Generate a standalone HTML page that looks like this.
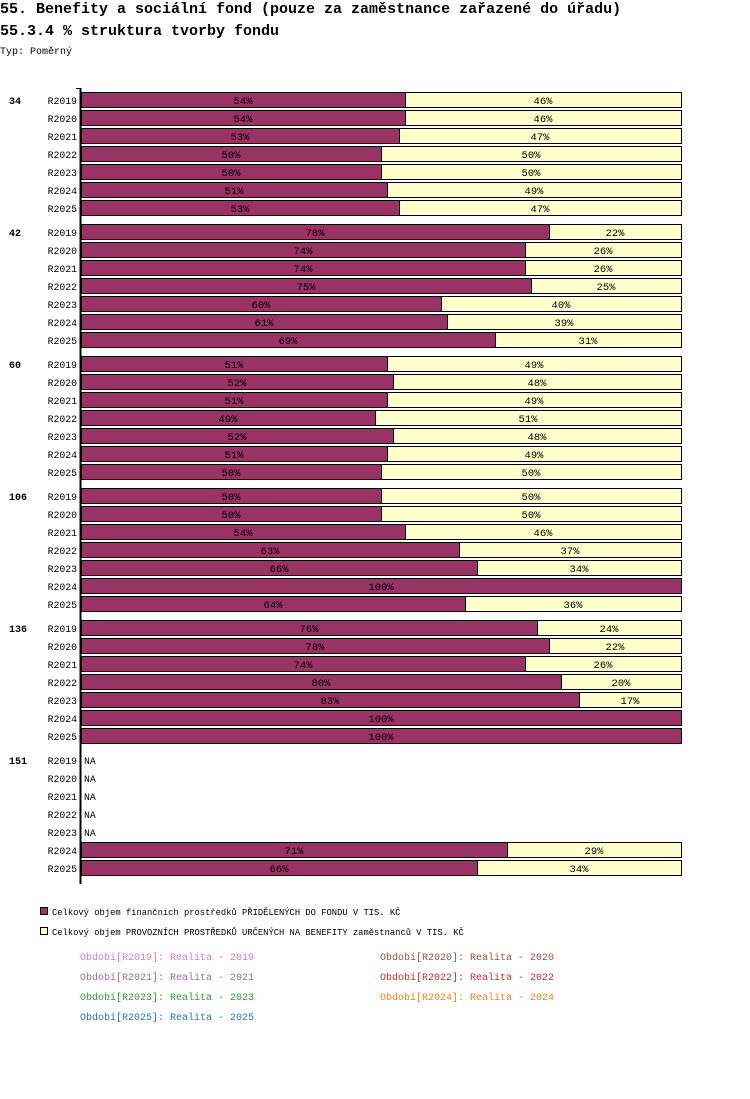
<!DOCTYPE html>
<html><head><meta charset="utf-8"><style>
body{margin:0;background:#fff;width:750px;height:1094px;overflow:hidden;font-family:"Liberation Mono",monospace;}
svg text{font-family:"Liberation Mono",monospace;}
</style></head><body>
<svg id="chart" width="750" height="1094" xmlns="http://www.w3.org/2000/svg">
<text x="0" y="13" font-size="15" font-weight="bold">55. Benefity a sociální fond (pouze za zaměstnance zařazené do úřadu)</text>
<text x="0" y="35" font-size="15" font-weight="bold">55.3.4 % struktura tvorby fondu</text>
<text x="0" y="54" font-size="10">Typ: Poměrný</text>
<line x1="80.5" y1="88" x2="80.5" y2="884" stroke="#000" stroke-width="2"/>
<line x1="76" y1="88.5" x2="81" y2="88.5" stroke="#000"/>
<g id="bars"></g>
<rect x="40.5" y="907.5" width="7" height="7" fill="#993366" stroke="#000"/>
<text x="52" y="915" font-size="8.8">Celkový objem finančních prostředků PŘIDĚLENÝCH DO FONDU V TIS. KČ</text>
<rect x="40.5" y="927.5" width="7" height="7" fill="#ffffcc" stroke="#000"/>
<text x="52" y="935" font-size="8.8">Celkový objem PROVOZNÍCH PROSTŘEDKŮ URČENÝCH NA BENEFITY zaměstnanců V TIS. KČ</text>
<text x="80" y="960" font-size="10" fill="#e377c2">Období[R2019]: Realita - 2019</text>
<text x="380" y="960" font-size="10" fill="#8c564b">Období[R2020]: Realita - 2020</text>
<text x="80" y="980" font-size="10" fill="#9467bd">Období[R2021]: Realita - 2021</text>
<text x="380" y="980" font-size="10" fill="#d62728">Období[R2022]: Realita - 2022</text>
<text x="80" y="1000" font-size="10" fill="#2ca02c">Období[R2023]: Realita - 2023</text>
<text x="380" y="1000" font-size="10" fill="#ff7f0e">Období[R2024]: Realita - 2024</text>
<text x="80" y="1020" font-size="10" fill="#1f77b4">Období[R2025]: Realita - 2025</text>
</svg>
<script>
const groups = ["34","42","60","106","136","151"];
const periods = ["R2019","R2020","R2021","R2022","R2023","R2024","R2025"];
const allocated = [
 [54,54,53,50,50,51,53],
 [78,74,74,75,60,61,69],
 [51,52,51,49,52,51,50],
 [50,50,54,63,66,100,64],
 [76,78,74,80,83,100,100],
 [null,null,null,null,null,71,66]
];
const operating = [
 [46,46,47,50,50,49,47],
 [22,26,26,25,40,39,31],
 [49,48,49,51,48,49,50],
 [50,50,46,37,34,0,36],
 [24,22,26,20,17,0,0],
 [null,null,null,null,null,29,34]
];
const NS="http://www.w3.org/2000/svg";
const g=document.getElementById('bars');
const X0=81, W=600;
const xScale=v=>X0+v/100*W;
const rowY=(gi,pi)=>92+gi*132+pi*18;
function mk(tag,attrs){const e=document.createElementNS(NS,tag);for(const k in attrs)e.setAttribute(k,attrs[k]);g.appendChild(e);return e;}
groups.forEach((grp,gi)=>{
  const gl=mk('text',{x:9,y:rowY(gi,0)+12,'font-size':10,'font-weight':'bold'});
  
  
  gl.textContent=grp;
  periods.forEach((p,pi)=>{
    const y=rowY(gi,pi);
    const pl=mk('text',{x:77,y:y+12,'font-size':9.8,'text-anchor':'end'});
    
    
    pl.textContent=p;
    const a=allocated[gi][pi], o=operating[gi][pi];
    if(a===null){
      const na=mk('text',{x:84,y:y+12,'font-size':9.8});
      
      
      na.textContent='NA';
      return;
    }
    const tot=a+o;
    const xa=xScale(a/tot*100);
    const r1=mk('rect',{x:X0+0.5,y:y+0.5,width:xa-X0,height:15,fill:'#993366',stroke:'#000'});
    
    
    const t1=mk('text',{x:(X0+xa)/2,y:y+12,'font-size':10.5,'text-anchor':'middle'});
    
    
    t1.textContent=a+'%';
    if(o>0){
      const xe=xScale(100);
      const r2=mk('rect',{x:xa+0.5,y:y+0.5,width:xe-xa,height:15,fill:'#ffffcc',stroke:'#000'});
      
      
      const t2=mk('text',{x:(xa+xe)/2,y:y+12,'font-size':10.5,'text-anchor':'middle'});
      
      
      t2.textContent=o+'%';
    }
  });
});
</script>
</body></html>
